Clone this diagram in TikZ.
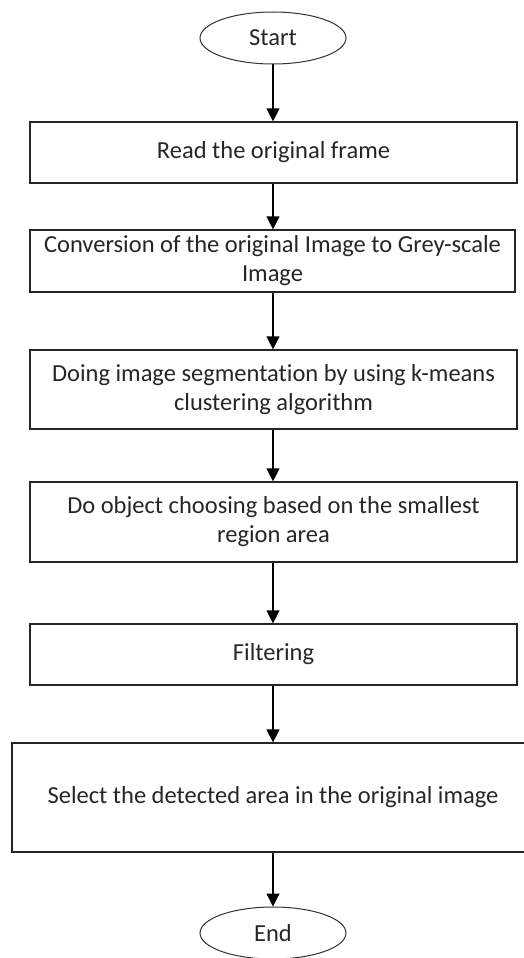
\documentclass[tikz,border=0pt]{standalone}
\usepackage{fontspec}
\setmainfont[Ligatures=NoCommon]{Carlito}
\usetikzlibrary{arrows.meta,shapes.geometric}
\begin{document}
\begin{tikzpicture}[x=1pt,y=-1pt,
  every node/.style={font=\fontsize{24.5}{29}\selectfont, text=black!85},
  stepbox/.style={draw=black!85, line width=1.2pt, rectangle, inner sep=0pt, align=center},
  term/.style={draw=black!80, line width=1pt, ellipse, inner sep=0pt, minimum width=146pt, minimum height=52pt},
  flow/.style={draw=black, line width=1.2pt, -{Triangle[length=13pt,width=13pt]}}]
\useasboundingbox (0,0) rectangle (523,958);
\fill[white] (0,0) rectangle (523,958);
\node[term] (start) at (273,38) {Start};
\node[stepbox, minimum width=487pt, minimum height=61pt] (b1) at (273.5,152.5) {Read the original frame};
\node[stepbox, minimum width=485pt, minimum height=62pt] (b2) at (272.5,261) {Conversion of the original Image to Grey-scale\\Image};
\node[stepbox, minimum width=487pt, minimum height=79pt] (b3) at (273.5,389.5) {Doing image segmentation by using k-means\\clustering algorithm};
\node[stepbox, minimum width=487pt, minimum height=80pt] (b4) at (273.5,522) {Do object choosing based on the smallest\\region area};
\node[stepbox, minimum width=487pt, minimum height=61pt] (b5) at (273.5,654.5) {Filtering};
\node[stepbox, minimum width=522pt, minimum height=109pt] (b6) at (273,797.5) {Select the detected area in the original image};
\node[term] (end) at (273,933) {End};
\draw[flow] (start.south) -- (start.south |- b1.north);
\draw[flow] (start.south |- b1.south) -- (start.south |- b2.north);
\draw[flow] (start.south |- b2.south) -- (start.south |- b3.north);
\draw[flow] (start.south |- b3.south) -- (start.south |- b4.north);
\draw[flow] (start.south |- b4.south) -- (start.south |- b5.north);
\draw[flow] (start.south |- b5.south) -- (start.south |- b6.north);
\draw[flow] (start.south |- b6.south) -- (end.north);
\end{tikzpicture}
\end{document}
